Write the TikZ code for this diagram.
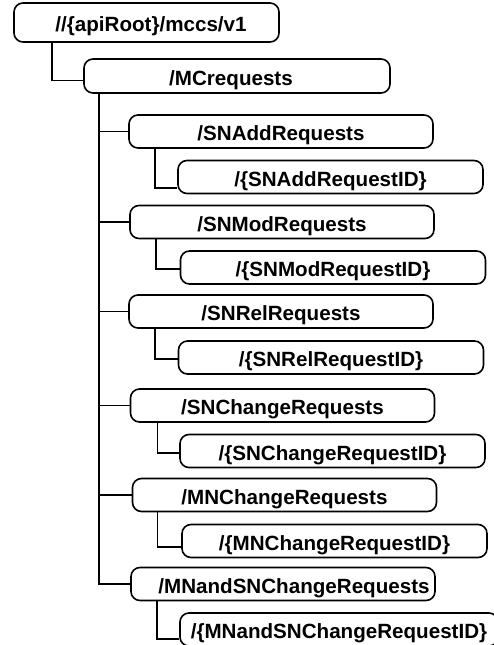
\documentclass[tikz,border=0pt]{standalone}
\usepackage{fontspec}
\setmainfont{Liberation Sans}
\begin{document}
\begin{tikzpicture}[x=1pt,y=-1pt,
  res/.style={draw=black, line width=1.6pt, rounded corners=9pt, inner sep=0pt,
    font=\fontsize{20.6}{24}\selectfont\bfseries, text=black,
    text height=20pt, text depth=2pt},
  lvltwo/.style={res, minimum width=304pt, minimum height=33pt},
  lvlthree/.style={res, minimum width=305pt, minimum height=33pt},
  link/.style={draw=black, line width=1.5pt}]
\useasboundingbox (0,0) rectangle (494,645);
\clip (0,0) rectangle (494,645);

% resource tree
\node[res, minimum width=265pt, minimum height=39pt] (root) at (146.5,22.5) {\hspace*{9pt}//\{apiRoot\}/mccs/v1};
\node[res, minimum width=306pt, minimum height=34pt] (mc) at (237,76) {/MCrequests\hspace*{12pt}};

\node[lvltwo] (snadd) at (281,131.5) {/SNAddRequests};
\node[lvlthree] (snaddid) at (330.5,177) {/\{SNAddRequestID\}};

\node[lvltwo] (snmod) at (282,222) {/SNModRequests};
\node[lvlthree] (snmodid) at (333,267.5) {/\{SNModRequestID\}};

\node[lvltwo] (snrel) at (281,311.5) {/SNRelRequests};
\node[lvlthree] (snrelid) at (331,357.5) {/\{SNRelRequestID\}};

\node[lvltwo] (snchg) at (282.5,405.5) {/SNChangeRequests};
\node[lvlthree] (snchgid) at (332.5,451) {/\{SNChangeRequestID\}};

\node[lvltwo] (mnchg) at (284.5,495) {/MNChangeRequests};
\node[lvlthree] (mnchgid) at (334.5,541) {/\{MNChangeRequestID\}};

\node[lvltwo] (mnsn) at (283,584) {\hspace*{22pt}/MNandSNChangeRequests};
\node[res, minimum width=318pt, minimum height=33pt] (mnsnid) at (339,629.5) {/\{MNandSNChangeRequestID\}};

% connectors
\draw[link] ([xshift=39pt]root.south west) |- ([yshift=-4.5pt]mc.west);
\coordinate (spine) at ([xshift=16pt]mc.south west);
\draw[link] (spine) |- (mnsn.west);
\foreach \n in {snadd,snmod,snrel,snchg,mnchg}
  \draw[link] (spine |- \n.west) -- (\n.west);

\draw[link] ([xshift=27pt]snadd.south west) |- ([yshift=-11pt]snaddid.west);
\draw[link] ([xshift=27pt]snmod.south west) |- ([yshift=-1.5pt]snmodid.west);
\draw[link] ([xshift=27pt]snrel.south west) |- ([yshift=-1.5pt]snrelid.west);
\draw[link] ([xshift=28pt]snchg.south west) |- ([yshift=-2pt]snchgid.west);
\draw[link] ([xshift=26pt]mnchg.south west) |- ([yshift=-6pt]mnchgid.west);
\draw[link] ([xshift=27pt]mnsn.south west) |- ([yshift=-9.5pt]mnsnid.west);
\end{tikzpicture}
\end{document}
